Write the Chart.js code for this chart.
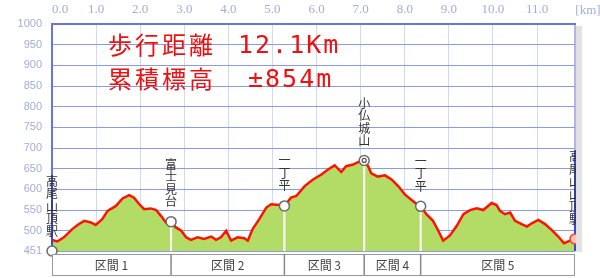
<!DOCTYPE html>
<html>
<head>
<meta charset="utf-8">
<script src="https://cdn.jsdelivr.net/npm/chart.js@4/dist/chart.umd.min.js"></script>
<style>
    html, body { margin: 0; padding: 0; background: #fff; }
    #wrap { width: 600px; height: 278px; position: relative; }
</style>
</head>
<body>
<div id="wrap"><canvas id="profile" width="600" height="278"></canvas></div>
<script>
(function () {
    'use strict';

    // distance along the route [km] and elevation [m]
    const distKm = [0.00, 0.12, 0.27, 0.46, 0.58, 0.73, 0.88, 0.99, 1.14, 1.26, 1.45, 1.60, 1.75, 1.86, 1.98,
        2.09, 2.24, 2.36, 2.47, 2.58, 2.70, 2.81, 2.93, 3.04, 3.15, 3.30, 3.45, 3.61, 3.72, 3.83, 3.95,
        4.06, 4.21, 4.36, 4.44, 4.55, 4.70, 4.86, 4.97, 5.16, 5.27, 5.42, 5.54, 5.73, 5.92, 6.11, 6.26,
        6.41, 6.56, 6.67, 6.83, 6.94, 7.08, 7.17, 7.24, 7.39, 7.55, 7.70, 7.85, 8.00, 8.23, 8.36, 8.49,
        8.64, 8.76, 8.87, 9.02, 9.18, 9.33, 9.48, 9.63, 9.78, 9.97, 10.08, 10.16, 10.27, 10.39, 10.50,
        10.65, 10.77, 10.88, 11.03, 11.18, 11.33, 11.48, 11.61, 11.75, 11.86];
    const elevM = [478, 474, 484, 504, 514, 524, 520, 514, 528, 548, 560, 578, 586, 580, 564,
        552, 554, 550, 536, 520, 522, 508, 500, 484, 478, 484, 480, 486, 478, 484, 500,
        476, 484, 482, 476, 504, 528, 556, 564, 562, 560, 580, 584, 608, 624, 636, 648,
        658, 642, 656, 660, 666, 670, 656, 639, 631, 634, 624, 608, 588, 568, 559, 540,
        524, 500, 476, 488, 512, 540, 550, 554, 550, 567, 562, 548, 540, 544, 524,
        516, 510, 518, 526, 516, 502, 486, 470, 476, 480];

    // checkpoints
    const pointNames = ['高尾山頂駅', '富士見台', '一丁平', '小仏城山', '一丁平', '高尾山山頂駅'];
    const pointKm = [0, 2.70, 5.27, 7.08, 8.36, 11.86];
    const pointElev = [451, 522, 560, 670, 559, 480];

    const sectionLabels = ['区間 1', '区間 2', '区間 3', '区間 4', '区間 5'];

    const xTicks = [0, 1, 2, 3, 4, 5, 6, 7, 8, 9, 10, 11];
    const xMax = 11.86;
    const yTicks = [451, 500, 550, 600, 650, 700, 750, 800, 850, 900, 950, 1000];

    const titleLeft = ['歩行距離', '累積標高'];
    const titleRight = ['12.1Km', '±854m'];

    const tickColor = '#a2aed4';
    const jp = '"Noto Sans CJK JP", sans-serif';

    function verticalText(ctx, text, cx, bottomY, step) {
        const chars = Array.from(text);
        chars.forEach(function (ch, j) {
            ctx.fillText(ch, cx, bottomY - (chars.length - 1 - j) * step);
        });
    }

    const extras = {
        id: 'profileExtras',
        afterDatasetsDraw: function (chart) {
            const ctx = chart.ctx, a = chart.chartArea;
            const x = chart.scales.x, y = chart.scales.y;
            const last = pointKm.length - 1;
            ctx.save();

            // drop lines
            pointKm.forEach(function (km, i) {
                const px = x.getPixelForValue(km), py = y.getPixelForValue(pointElev[i]);
                const n = Array.from(pointNames[i]).length;
                ctx.beginPath();
                if (i === 0 || i === last) {
                    ctx.strokeStyle = '#3848dc';
                    ctx.moveTo(px, py - 20 - (n - 1) * 12.5 - 6);
                } else {
                    ctx.strokeStyle = '#ffffff';
                    ctx.moveTo(px, py);
                }
                ctx.lineWidth = 2;
                ctx.lineTo(px, a.bottom);
                ctx.stroke();
            });

            // markers
            pointKm.forEach(function (km, i) {
                const px = x.getPixelForValue(km), py = y.getPixelForValue(pointElev[i]);
                ctx.beginPath();
                ctx.arc(px, py, 5, 0, Math.PI * 2);
                ctx.fillStyle = i === last ? '#ffc4b4' : '#ffffff';
                ctx.strokeStyle = i === last ? '#f04028' : '#6a6a6a';
                ctx.lineWidth = 1.5;
                ctx.fill();
                ctx.stroke();
                if (pointElev[i] === Math.max.apply(null, pointElev)) {
                    ctx.beginPath();
                    ctx.arc(px, py, 2, 0, Math.PI * 2);
                    ctx.strokeStyle = '#555';
                    ctx.lineWidth = 1.2;
                    ctx.stroke();
                }
            });

            // names
            ctx.font = '12px ' + jp;
            ctx.fillStyle = '#333';
            ctx.textAlign = 'center';
            ctx.textBaseline = 'middle';
            pointKm.forEach(function (km, i) {
                const px = x.getPixelForValue(km), py = y.getPixelForValue(pointElev[i]);
                verticalText(ctx, pointNames[i], px, py - 20, 12.5);
            });
            ctx.restore();
        },
        afterDraw: function (chart) {
            const ctx = chart.ctx, a = chart.chartArea;
            const x = chart.scales.x;
            ctx.save();

            // shadow right of the plot
            ctx.fillStyle = '#e2e2e2';
            ctx.fillRect(a.right + 1, a.top + 2, 6, a.bottom - a.top - 1);

            // section strip
            const top = a.bottom + 3, bot = a.bottom + 24;
            ctx.fillStyle = '#fff';
            ctx.fillRect(a.left, top, a.right - a.left, bot - top);
            ctx.strokeStyle = '#9a9a9a';
            ctx.lineWidth = 1;
            ctx.strokeRect(a.left + 0.5, top + 0.5, a.right - a.left - 1, bot - top);
            ctx.font = '12px ' + jp;
            ctx.fillStyle = '#444';
            ctx.textAlign = 'center';
            ctx.textBaseline = 'middle';
            sectionLabels.forEach(function (lab, i) {
                const x0 = x.getPixelForValue(pointKm[i]), x1 = x.getPixelForValue(pointKm[i + 1]);
                if (i > 0) {
                    ctx.strokeStyle = '#888';
                    ctx.lineWidth = 1.5;
                    ctx.beginPath();
                    ctx.moveTo(x0, top);
                    ctx.lineTo(x0, bot);
                    ctx.stroke();
                }
                ctx.fillText(lab, (x0 + x1) / 2, (top + bot) / 2 + 1);
            });

            // [km]
            ctx.font = '13px "Liberation Serif", serif';
            ctx.fillStyle = tickColor;
            ctx.textBaseline = 'bottom';
            ctx.fillText('[km]', 588, a.top - 7);

            // title
            ctx.fillStyle = '#ee1010';
            ctx.textAlign = 'left';
            ctx.textBaseline = 'middle';
            ctx.font = '24px ' + jp;
            ctx.letterSpacing = '3px';
            ctx.fillText(titleLeft[0], 108, 45);
            ctx.fillText(titleLeft[1], 108, 79);
            ctx.font = '25px "DejaVu Sans Mono", monospace';
            ctx.letterSpacing = '2px';
            ctx.fillText(titleRight[0], 238, 46);
            ctx.fillText(titleRight[1], 248, 80);
            ctx.restore();
        }
    };

    new Chart(document.getElementById('profile'), {
        type: 'line',
        data: {
            datasets: [{
                data: distKm.map(function (d, i) { return { x: d, y: elevM[i] }; }),
                borderColor: '#ff1200',
                borderWidth: 2.5,
                backgroundColor: '#b2dc66',
                fill: 'start',
                pointRadius: 0,
                tension: 0
            }]
        },
        options: {
            responsive: false,
            animation: false,
            devicePixelRatio: 1,
            layout: { padding: { left: 0, top: 0, right: 25, bottom: 27 } },
            plugins: { legend: { display: false }, tooltip: { enabled: false } },
            scales: {
                x: {
                    type: 'linear',
                    position: 'top',
                    min: 0,
                    max: xMax,
                    afterBuildTicks: function (s) {
                        s.ticks = xTicks.concat([xMax]).map(function (v) { return { value: v }; });
                    },
                    afterFit: function (s) { s.height = 24; },
                    ticks: {
                        align: 'inner',
                        autoSkip: false,
                        maxRotation: 0,
                        padding: 7,
                        color: tickColor,
                        font: { family: '"Liberation Serif", serif', size: 13 },
                        callback: function (v, i) { return i < xTicks.length ? Number(v).toFixed(1) : ''; }
                    },
                    grid: {
                        drawTicks: false,
                        color: function (c) { return c.index === xTicks.length ? '#b4b4e6' : '#d2d9ef'; },
                        lineWidth: function (c) { return c.index === xTicks.length ? 2 : 1; }
                    },
                    border: { color: '#6676e0', width: 2 }
                },
                y: {
                    type: 'linear',
                    min: 451,
                    max: 1000,
                    afterBuildTicks: function (s) {
                        s.ticks = yTicks.map(function (v) { return { value: v }; });
                    },
                    afterFit: function (s) { s.width = 52; },
                    ticks: {
                        autoSkip: false,
                        padding: 10,
                        color: tickColor,
                        font: { family: '"Liberation Sans", sans-serif', size: 11 },
                        callback: function (v) { return String(v); }
                    },
                    grid: { drawTicks: false, color: '#8a9ae4', lineWidth: 1 },
                    border: { color: '#6676e0', width: 2 }
                }
            }
        },
        plugins: [extras]
    });
})();
</script>
</body>
</html>
